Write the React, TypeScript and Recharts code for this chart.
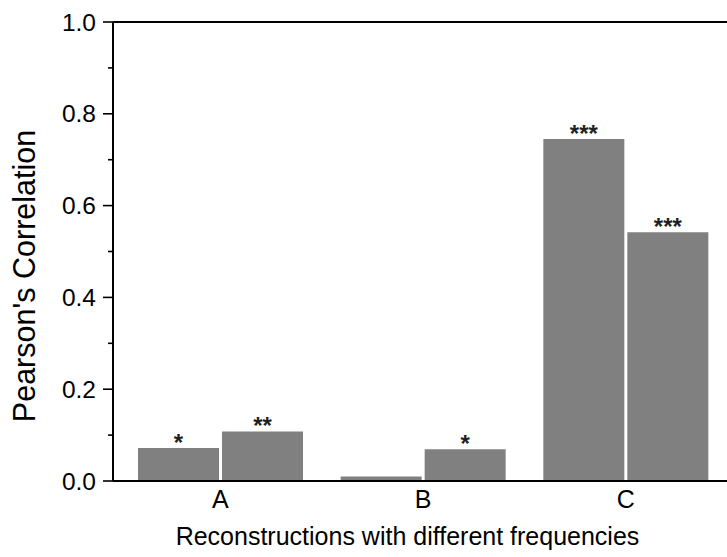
import React from "react";
import {
  BarChart,
  Bar,
  XAxis,
  YAxis,
  LabelList,
  ReferenceLine,
} from "recharts";

const categories = ["A", "B", "C"];
const firstValues = [0.072, 0.01, 0.745];
const secondValues = [0.108, 0.069, 0.542];
const firstStars = ["*", "", "***"];
const secondStars = ["**", "*", "***"];
const yTicks = [0, 0.1, 0.2, 0.3, 0.4, 0.5, 0.6, 0.7, 0.8, 0.9, 1.0];

const data = categories.map((name, i) => ({
  name,
  first: firstValues[i],
  second: secondValues[i],
  firstStar: firstStars[i],
  secondStar: secondStars[i],
}));

const font = "'Liberation Sans', Arial, sans-serif";
const barFill = "#808080";

function YTick(props: any) {
  const { x, y, index, payload } = props;
  const major = index % 2 === 0;
  return (
    <g>
      <line
        x1={x + 7 + (major ? 0 : 5)}
        x2={x + 17}
        y1={y}
        y2={y}
        stroke="#000"
        strokeWidth={1.6}
      />
      {major && (
        <text
          x={x}
          y={y}
          textAnchor="end"
          dominantBaseline="central"
          fontSize={24.5}
          fontFamily={font}
          fill="#000"
        >
          {Number(payload.value).toFixed(1)}
        </text>
      )}
    </g>
  );
}

function StarLabel(props: any) {
  const { x, y, width, value } = props;
  if (!value) return null;
  return (
    <text
      x={x + width / 2}
      y={y + 3}
      textAnchor="middle"
      fontSize={24}
      fontWeight="bold"
      fontFamily={font}
      fill="#231f20"
    >
      {value}
    </text>
  );
}

export default function App() {
  return (
    <div
      style={{
        position: "fixed",
        left: 0,
        top: 0,
        width: 727,
        height: 557,
        overflow: "hidden",
        background: "#fff",
      }}
    >
      <BarChart
        width={727}
        height={557}
        data={data}
        margin={{ top: 22, right: 0, left: 0, bottom: 0 }}
        barGap={3}
        barCategoryGap={19}
      >
        <XAxis
          dataKey="name"
          height={76}
          padding={{ left: 6, right: 0 }}
          tickLine={false}
          tickSize={0}
          tickMargin={9}
          axisLine={{ stroke: "#000", strokeWidth: 2 }}
          tick={{ fontSize: 25, fontFamily: font, fill: "#000" }}
          label={{
            content: () => (
              <text
                x={407.5}
                y={544.5}
                textAnchor="middle"
                fontSize={25}
                fontFamily={font}
                fill="#000"
              >
                Reconstructions with different frequencies
              </text>
            ),
          }}
        />
        <YAxis
          width={113}
          domain={[0, 1]}
          ticks={yTicks}
          interval={0}
          tickLine={false}
          tickSize={10}
          tickMargin={7}
          axisLine={{ stroke: "#000", strokeWidth: 2 }}
          tick={<YTick />}
          label={{
            content: () => (
              <text
                x={35}
                y={276}
                transform="rotate(-90, 35, 276)"
                textAnchor="middle"
                fontSize={30.5}
                fontFamily={font}
                fill="#000"
              >
                Pearson's Correlation
              </text>
            ),
          }}
        />
        <ReferenceLine y={1} stroke="#000" strokeWidth={2} />
        <Bar dataKey="first" fill={barFill} isAnimationActive={false}>
          <LabelList dataKey="firstStar" content={<StarLabel />} />
        </Bar>
        <Bar dataKey="second" fill={barFill} isAnimationActive={false}>
          <LabelList dataKey="secondStar" content={<StarLabel />} />
        </Bar>
      </BarChart>
    </div>
  );
}
